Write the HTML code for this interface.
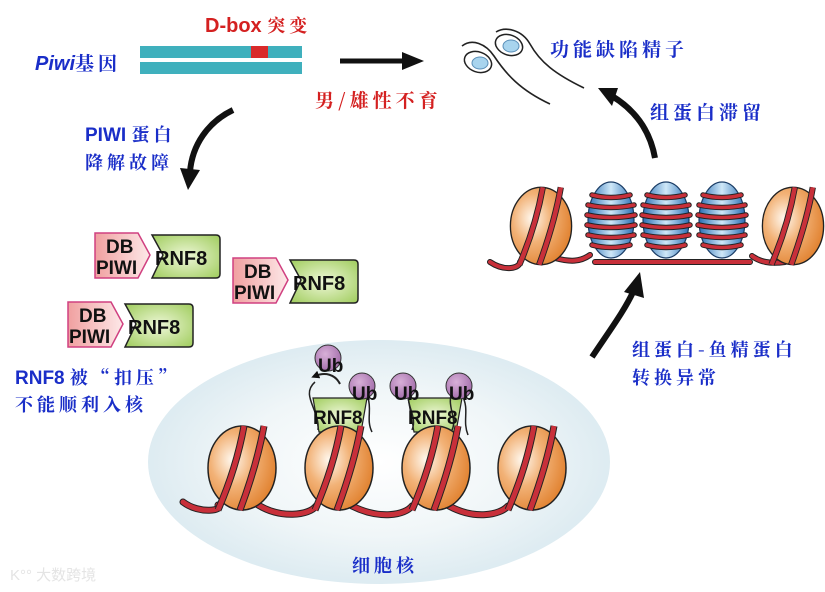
<!DOCTYPE html>
<html><head><meta charset="utf-8"><style>
html,body{margin:0;padding:0;background:#fff;}
svg{display:block;}
.cn{font-family:"Noto Serif CJK SC","WenQuanYi Zen Hei",serif;font-weight:bold;letter-spacing:4px;}
.lb{font-family:"Liberation Sans","Noto Sans CJK SC",sans-serif;font-weight:bold;}
</style></head><body>
<svg width="825" height="592" viewBox="0 0 825 592" xmlns="http://www.w3.org/2000/svg">
<defs>
<radialGradient id="og" cx="0.35" cy="0.4" r="0.7">
<stop offset="0" stop-color="#fff8ee"/><stop offset="0.45" stop-color="#f2b277"/><stop offset="1" stop-color="#e07f2c"/>
</radialGradient>
<radialGradient id="bg" cx="0.5" cy="0.5" r="0.6">
<stop offset="0" stop-color="#ffffff"/><stop offset="0.5" stop-color="#f0f6f8"/><stop offset="1" stop-color="#d4e6ee"/>
</radialGradient>
<linearGradient id="blu" x1="0" y1="0" x2="1" y2="0">
<stop offset="0" stop-color="#2a6fb5"/><stop offset="0.5" stop-color="#cfe8f8"/><stop offset="1" stop-color="#2a6fb5"/>
</linearGradient>
<radialGradient id="gr" cx="0.5" cy="0.5" r="0.7">
<stop offset="0" stop-color="#eef7d8"/><stop offset="1" stop-color="#9fcc5c"/>
</radialGradient>
<linearGradient id="pk" x1="0" y1="0" x2="1" y2="0">
<stop offset="0" stop-color="#f0a0a0"/><stop offset="1" stop-color="#fde8e8"/>
</linearGradient>
<radialGradient id="ub" cx="0.4" cy="0.35" r="0.7">
<stop offset="0" stop-color="#d8b0d8"/><stop offset="1" stop-color="#a06aa8"/>
</radialGradient>
<g id="nuc">
<ellipse cx="0" cy="0" rx="34" ry="42" fill="url(#og)" stroke="#222" stroke-width="1.5"/>
<path d="M-24,42 C-10,10 -2,-20 2,-42" fill="none" stroke="#222" stroke-width="7"/>
<path d="M-24,42 C-10,10 -2,-20 2,-42" fill="none" stroke="#c8303a" stroke-width="5"/>
<path d="M-2,42 C10,10 18,-20 22,-42" fill="none" stroke="#222" stroke-width="7"/>
<path d="M-2,42 C10,10 18,-20 22,-42" fill="none" stroke="#c8303a" stroke-width="5"/>
</g>
<g id="prot">
<ellipse cx="0" cy="0" rx="23" ry="38" fill="url(#blu)" stroke="#1b3d66" stroke-width="1.2"/>
<g fill="none" stroke="#222" stroke-width="5.5" stroke-linecap="round">
<path d="M-19,-25 Q0,-20 19,-25 M-23,-15 Q0,-10 23,-15 M-24,-5 Q0,0 24,-5 M-24,5 Q0,10 24,5 M-23,15 Q0,20 23,15 M-19,25 Q0,30 19,25"/></g>
<g fill="none" stroke="#c8303a" stroke-width="3.5" stroke-linecap="round">
<path d="M-19,-25 Q0,-20 19,-25 M-23,-15 Q0,-10 23,-15 M-24,-5 Q0,0 24,-5 M-24,5 Q0,10 24,5 M-23,15 Q0,20 23,15 M-19,25 Q0,30 19,25"/></g>
</g>
<marker id="ah" viewBox="0 0 10 10" refX="5" refY="5" markerWidth="4" markerHeight="4" orient="auto"><path d="M0,0 L10,5 L0,10 Z" fill="#111"/></marker>
</defs>

<text x="205" y="32" class="lb" font-size="20" fill="#d42020">D-box <tspan class="cn" font-size="18">突变</tspan></text>
<text x="35" y="70" font-size="20" fill="#1a2ec8" class="lb"><tspan font-style="italic">Piwi</tspan><tspan class="cn" font-size="19" letter-spacing="2">基因</tspan></text>
<rect x="140" y="46" width="162" height="12" fill="#3fb0bd"/>
<rect x="140" y="62" width="162" height="12" fill="#3fb0bd"/>
<rect x="251" y="46" width="17" height="12" fill="#d92b2b"/>
<line x1="340" y1="61" x2="408" y2="61" stroke="#111" stroke-width="5"/>
<path d="M402,52 L424,61 L402,70 Z" fill="#111"/>
<text x="315" y="107" class="cn" font-size="19" fill="#d42020">男/雄性不育</text>

<path d="M233,110 C208,122 192,145 190,172" fill="none" stroke="#111" stroke-width="6"/>
<path d="M180,168 L188,190 L200,170 Z" fill="#111"/>
<text x="85" y="141" class="lb" font-size="19" fill="#1a2ec8">PIWI <tspan class="cn" font-size="18">蛋白</tspan></text>
<text x="85" y="169" class="cn" font-size="18" fill="#1a2ec8">降解故障</text>

<g id="cx1" transform="translate(95,233)">
<path d="M0,0 H43 L55,22 L43,45 H0 Z" fill="url(#pk)" stroke="#d04080" stroke-width="1.5"/>
<path d="M57,2 H121 Q125,2 125,6 V41 Q125,45 121,45 H57 L68,22 Z" fill="url(#gr)" stroke="#222" stroke-width="1.5"/>
<text x="11" y="20" class="lb" font-size="19" fill="#111">DB</text>
<text x="1" y="41" class="lb" font-size="19" fill="#111">PIWI</text>
<text x="60" y="32" class="lb" font-size="20" fill="#111">RNF8</text>
</g>
<use href="#cx1" x="138" y="25"/>
<use href="#cx1" x="-27" y="69"/>

<text x="15" y="384" class="lb" font-size="19" fill="#1a2ec8">RNF8 <tspan class="cn" font-size="18">被“扣压”</tspan></text>
<text x="15" y="411" class="cn" font-size="18" fill="#1a2ec8">不能顺利入核</text>

<ellipse cx="379" cy="462" rx="231" ry="122" fill="url(#bg)"/>
<g fill="none" stroke-linecap="round">
<path d="M183,502 C200,515 225,510 218,505 M255,503 C280,520 310,515 316,506 M352,506 C380,520 405,515 412,506 M449,506 C475,520 500,515 508,506" stroke="#222" stroke-width="7"/>
<path d="M183,502 C200,515 225,510 218,505 M255,503 C280,520 310,515 316,506 M352,506 C380,520 405,515 412,506 M449,506 C475,520 500,515 508,506" stroke="#c8303a" stroke-width="5"/>
</g>
<g>
<path d="M313,398 H367 L361,432 H319 Z" fill="url(#gr)" stroke="#222" stroke-width="1.2"/>
<path d="M408,398 H462 L456,432 H414 Z" fill="url(#gr)" stroke="#222" stroke-width="1.2"/>
<g fill="none" stroke="#222" stroke-width="1.5">
<path d="M315,382 C300,395 320,410 318,430"/><path d="M368,398 C372,410 366,420 372,432"/>
<path d="M410,390 C404,405 418,415 412,430"/><path d="M462,395 C470,410 462,420 468,435"/>
<path d="M453,390 C445,405 458,418 452,430"/>
</g>
<path d="M340,384 C335,374 325,372 315,376" fill="none" stroke="#222" stroke-width="2" marker-end="url(#ah)"/>
</g>
<use href="#nuc" x="242" y="468"/>
<use href="#nuc" x="339" y="468"/>
<use href="#nuc" x="436" y="468"/>
<use href="#nuc" x="532" y="468"/>
<g class="lb" font-size="19" fill="#111">
<circle cx="328" cy="358" r="13" fill="url(#ub)" stroke="#333"/>
<circle cx="362" cy="386" r="13" fill="url(#ub)" stroke="#333"/>
<circle cx="403" cy="386" r="13" fill="url(#ub)" stroke="#333"/>
<circle cx="459" cy="386" r="13" fill="url(#ub)" stroke="#333"/>
<text x="318" y="372">Ub</text>
<text x="352" y="400">Ub</text>
<text x="394" y="400">Ub</text>
<text x="449" y="400">Ub</text>
<text x="313" y="424">RNF8</text>
<text x="408" y="424">RNF8</text>
</g>
<text x="352" y="572" class="cn" font-size="18" fill="#1a2ec8">细胞核</text>

<g fill="none" stroke-linecap="round">
<path d="M490,262 C505,272 520,268 520,262 M555,258 C570,262 580,262 590,255 M595,262 H750 M752,256 C760,262 770,264 785,262" stroke="#222" stroke-width="6"/>
<path d="M490,262 C505,272 520,268 520,262 M555,258 C570,262 580,262 590,255 M595,262 H750 M752,256 C760,262 770,264 785,262" stroke="#c8303a" stroke-width="4"/>
</g>
<use href="#nuc" x="541" y="226" transform="translate(541,226) scale(0.9,0.92) translate(-541,-226)"/>
<use href="#nuc" x="793" y="226" transform="translate(793,226) scale(0.9,0.92) translate(-793,-226)"/>
<use href="#prot" x="611" y="220"/>
<use href="#prot" x="666" y="220"/>
<use href="#prot" x="722" y="220"/>

<path d="M592,357 C610,330 625,310 634,290" fill="none" stroke="#111" stroke-width="6"/>
<path d="M624,292 L640,272 L644,298 Z" fill="#111"/>
<text x="632" y="356" class="cn" font-size="18" fill="#1a2ec8" letter-spacing="2">组蛋白-鱼精蛋白</text>
<text x="632" y="384" class="cn" font-size="18" fill="#1a2ec8">转换异常</text>

<path d="M655,158 C650,130 635,110 612,96" fill="none" stroke="#111" stroke-width="6"/>
<path d="M618,88 L598,88 L612,106 Z" fill="#111"/>
<text x="650" y="119" class="cn" font-size="19" fill="#1a2ec8">组蛋白滞留</text>
<text x="550" y="56" class="cn" font-size="19" fill="#1a2ec8">功能缺陷精子</text>

<g fill="none" stroke="#222" stroke-width="1.6">
<path d="M462,46 C472,38 486,44 494,56 C506,74 520,90 550,104"/>
<path d="M496,32 C506,26 522,30 530,44 C540,62 555,74 584,88"/>
</g>
<g stroke="#222" stroke-width="1.5">
<ellipse cx="478" cy="62" rx="14" ry="10" fill="#fff" transform="rotate(20 478 62)"/>
<ellipse cx="480" cy="63" rx="8" ry="6" fill="#a8d4ee" stroke="#5a8fb8" stroke-width="1"/>
<ellipse cx="509" cy="45" rx="14" ry="10" fill="#fff" transform="rotate(20 509 45)"/>
<ellipse cx="511" cy="46" rx="8" ry="6" fill="#a8d4ee" stroke="#5a8fb8" stroke-width="1"/>
</g>

<text x="10" y="580" font-family="Liberation Sans,Noto Sans CJK SC,sans-serif" font-size="15" fill="#e4e4e4">K°° 大数跨境</text>
</svg>
</body></html>
